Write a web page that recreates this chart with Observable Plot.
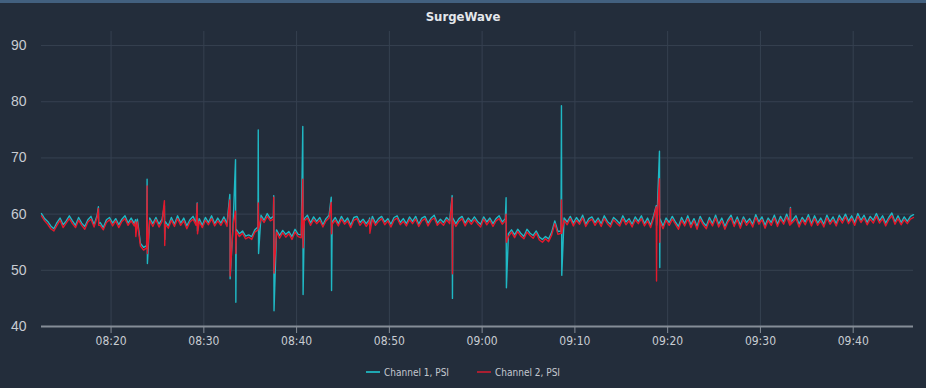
<!DOCTYPE html>
<html>
<head>
<meta charset="utf-8">
<script src="https://cdn.jsdelivr.net/npm/d3@7"></script>
<script src="https://cdn.jsdelivr.net/npm/@observablehq/plot@0.6"></script>
<style>
html,body{margin:0;padding:0;background:#232d3b;}
body{width:926px;height:388px;overflow:hidden;}
#bar{height:3px;background:#42607f;}
#title{height:27px;line-height:28px;text-align:center;color:#e4e7eb;font-weight:bold;font-size:13px;font-family:"Liberation Sans Narrow","DejaVu Sans Condensed",sans-serif;}
#chart{height:320px;}
#legend{height:38px;display:flex;justify-content:center;align-items:center;padding-top:6px;box-sizing:border-box;font-family:"Liberation Sans Narrow","DejaVu Sans Condensed",sans-serif;font-size:10px;color:#c3c8cf;}
.item{display:flex;align-items:center;margin:0 14px;}
.sw{width:14px;height:2px;margin-right:4px;}
</style>
</head>
<body>
<div id="bar"></div>
<div id="title">SurgeWave</div>
<div id="chart"></div>
<div id="legend"></div>
<script>
// Baseline readings: one every 20 s starting at 08:12:30
const startTime = "08:12:30";
const sampleSeconds = 20;

const seriesNames = ["Channel 1, PSI", "Channel 2, PSI"];
const seriesColors = ["#1fb8c4", "#e3192c"];
const legendColors = ["#1fa7b2", "#a91f31"];

const yTicks = [40, 50, 60, 70, 80, 90];
const xTickLabels = ["08:20","08:30","08:40","08:50","09:00","09:10","09:20","09:30","09:40"];

// Channel 1, PSI baseline
const channel1 = [
60.1,59.2,58.7,57.9,57.4,58.5,59.3,58.1,58.8,59.7,
58.8,58.0,59.4,58.4,57.8,59.0,59.6,58.1,59.8,58.5,
57.6,59.0,59.4,58.4,59.2,58.1,59.1,59.7,58.4,59.3,
58.3,59.1,54.8,54.1,54.4,59.3,58.3,59.4,58.2,59.1,
58.7,57.9,59.4,58.2,59.7,58.4,59.3,57.9,59.0,59.6,
58.4,59.2,58.0,59.4,58.5,59.7,58.3,59.3,58.4,59.5,
58.3,59.1,58.7,57.3,56.5,57.0,56.1,56.3,56.0,57.2,
57.7,59.8,58.9,60.1,59.2,59.6,57.2,56.2,57.1,56.4,
56.9,56.0,57.3,56.4,56.3,59.2,59.8,58.4,59.5,58.7,
59.4,58.1,59.2,59.8,58.6,59.4,58.3,59.6,58.6,59.3,
58.0,59.4,59.6,58.5,59.1,58.3,59.0,59.6,58.4,59.2,
59.6,58.6,59.2,58.2,59.4,59.7,58.5,59.2,58.3,59.5,
58.7,59.6,58.2,59.3,59.6,58.4,59.3,59.8,58.4,59.1,
58.5,59.4,58.8,59.3,58.3,59.2,59.6,58.4,59.3,58.7,
59.5,58.7,58.2,59.5,58.6,59.3,58.3,59.2,59.7,58.6,
59.2,56.5,57.2,56.3,57.3,56.6,56.0,57.3,56.6,56.2,
57.0,55.9,55.5,56.0,55.6,56.8,58.8,56.9,57.0,59.3,
58.6,59.6,58.4,59.4,58.6,59.8,58.2,59.2,59.5,58.5,
59.3,58.3,59.7,58.7,58.2,59.4,58.9,58.3,59.7,58.6,
59.2,58.2,59.5,58.7,59.7,58.3,59.3,58.0,59.8,58.5,
59.2,57.9,59.3,58.5,59.6,58.6,57.8,59.4,58.3,59.7,
58.1,59.2,57.8,59.6,58.5,57.9,59.4,58.3,59.8,58.2,
59.3,57.8,59.0,59.8,58.2,59.5,58.0,59.5,58.5,59.2,
58.2,59.9,58.6,59.5,58.0,59.3,58.5,59.8,58.2,59.6,
58.6,60.0,58.5,59.0,59.7,58.2,59.4,58.6,59.9,58.3,
59.7,58.4,59.3,58.2,59.8,58.6,59.5,58.3,59.8,58.9,
60.0,58.7,59.7,58.5,60.1,58.9,59.8,58.5,59.6,58.9,
60.1,58.8,59.7,58.4,59.4,60.2,58.6,59.7,58.5,59.5,
58.7,59.6,59.9
];

// Channel 2, PSI baseline
const channel2 = [
59.7,58.8,58.2,57.4,57.0,58.0,58.9,57.6,58.4,59.2,
58.3,57.6,58.9,58.0,57.3,58.6,59.1,57.7,59.4,58.0,
57.2,58.5,59.0,57.9,58.8,57.6,58.7,59.2,58.0,58.8,
57.9,58.6,54.3,53.6,54.0,58.9,57.8,59.0,57.7,58.7,
58.2,57.5,58.9,57.8,59.2,58.0,58.8,57.4,58.6,59.1,
58.0,58.7,57.6,58.9,58.1,59.2,57.9,58.8,58.0,59.0,
57.8,58.7,58.2,56.9,56.0,56.6,55.6,55.9,55.5,56.8,
57.2,59.3,58.5,59.6,58.8,59.1,56.8,55.7,56.7,55.9,
56.5,55.5,56.8,56.0,55.8,58.8,59.3,58.0,59.0,58.3,
58.9,57.7,58.8,59.3,58.2,58.9,57.9,59.1,58.2,58.8,
57.6,58.9,59.2,58.0,58.7,57.8,58.6,59.1,58.0,58.7,
59.2,58.1,58.8,57.7,58.9,59.3,58.1,58.7,57.9,59.0,
58.3,59.1,57.8,58.8,59.2,57.9,58.9,59.3,58.0,58.6,
58.0,59.0,58.3,58.9,57.8,58.7,59.2,57.9,58.9,58.2,
59.0,58.3,57.7,59.1,58.1,58.9,57.8,58.8,59.2,58.2,
58.8,56.0,56.8,55.8,56.9,56.1,55.6,56.8,56.2,55.7,
56.6,55.4,55.0,55.6,55.1,56.3,58.3,56.4,56.6,58.9,
58.1,59.2,57.9,58.9,58.2,59.3,57.8,58.7,59.1,58.0,
58.9,57.8,59.2,58.3,57.7,59.0,58.4,57.9,59.2,58.1,
58.8,57.7,59.0,58.3,59.2,57.9,58.8,57.6,59.4,58.0,
58.7,57.4,58.9,58.0,59.1,58.2,57.3,58.9,57.9,59.2,
57.6,58.8,57.3,59.1,58.1,57.4,58.9,57.9,59.3,57.7,
58.8,57.3,58.6,59.3,57.8,59.0,57.5,59.1,58.0,58.8,
57.7,59.4,58.2,59.0,57.5,58.9,58.0,59.3,57.8,59.1,
58.2,59.5,58.0,58.6,59.2,57.7,59.0,58.1,59.4,57.9,
59.2,58.0,58.8,57.7,59.3,58.2,59.0,57.9,59.3,58.4,
59.5,58.3,59.2,58.0,59.6,58.5,59.3,58.1,59.1,58.4,
59.6,58.4,59.2,57.9,59.0,59.7,58.2,59.2,58.1,59.0,
58.3,59.1,59.4
];

// Pressure surges (peak then trough, a couple of seconds apart)
const surgeTimes   = ["08:18:38","08:22:38","08:23:53","08:25:45","08:29:17","08:32:48","08:33:25","08:35:52","08:37:32","08:40:40","08:43:44","08:47:52","08:56:46","09:02:35","09:08:33","09:18:46","09:19:07","09:33:14"];
const ch1Peak      = [61.3, 59.0, 66.2, 61.5, 62.0, 63.5, 69.7, 75.0, 63.3, 75.6, 63.0, 59.3, 63.3, 62.9, 79.3, 61.5, 71.2, 61.2];
const ch1Trough    = [58.3, 57.0, 51.2, 55.5, 57.0, 48.5, 44.3, 53.0, 42.8, 45.7, 46.4, 57.5, 45.0, 46.9, 49.1, 58.0, 50.5, 58.5];
const ch2Peak      = [61.0, 58.6, 65.0, 62.4, 61.9, 62.5, 60.5, 62.0, 63.0, 66.2, 62.1, 59.0, 62.9, 60.0, 62.5, 61.3, 66.3, 61.0];
const ch2Trough    = [58.0, 56.0, 53.0, 54.4, 56.5, 49.0, 53.0, 57.5, 49.5, 54.0, 56.5, 56.6, 49.4, 55.0, 56.6, 48.1, 55.0, 58.2];

const toDate = hm => {
  const [h, m, s] = hm.split(":").map(Number);
  return new Date(Date.UTC(2024, 0, 1, h, m, s || 0));
};
const t0 = toDate(startTime);
const rows = channel1.map((v, i) => ({
  t: new Date(t0.getTime() + i * sampleSeconds * 1000),
  ch1: v,
  ch2: channel2[i]
}));
surgeTimes.forEach((s, k) => {
  const t = toDate(s);
  rows.push({t, ch1: ch1Peak[k], ch2: ch2Peak[k]});
  rows.push({t: new Date(t.getTime() + 2000), ch1: ch1Trough[k], ch2: ch2Trough[k]});
});
rows.sort((a, b) => a.t - b.t);

const xTicks = xTickLabels.map(toDate);
const fmt = d3.utcFormat("%H:%M");

const narrow = '"Liberation Sans Narrow","DejaVu Sans Condensed",sans-serif';
const chart = Plot.plot({
  width: 926,
  height: 320,
  marginTop: 1,
  marginBottom: 24,
  marginLeft: 41,
  marginRight: 13,
  style: {background: "transparent", color: "#c8ccd2", fontFamily: narrow},
  x: {type: "utc", domain: [rows[0].t, rows[rows.length - 1].t]},
  y: {domain: [40, 92.5]},
  marks: [
    Plot.gridY(yTicks, {stroke: "#364150", strokeOpacity: 1}),
    Plot.gridX(xTicks, {stroke: "#364150", strokeOpacity: 1}),
    Plot.axisY(yTicks, {tickSize: 0, tickPadding: 15, fontSize: 14, fill: "#c8ccd2", label: null, fontFamily: '"Liberation Sans",Arial,sans-serif'}),
    Plot.axisX(xTicks, {tickSize: 7, tickPadding: 3, fontSize: 12, tickFormat: fmt, stroke: "#858d97", fill: "#c8ccd2", label: null}),
    Plot.line(rows, {x: "t", y: "ch1", stroke: seriesColors[0], strokeWidth: 1.4}),
    Plot.line(rows, {x: "t", y: "ch2", stroke: seriesColors[1], strokeWidth: 1.4}),
    Plot.ruleY([40], {stroke: "#858d97", strokeWidth: 2})
  ]
});
document.getElementById("chart").appendChild(chart);

const legend = document.getElementById("legend");
seriesNames.forEach((name, i) => {
  const item = document.createElement("div");
  item.className = "item";
  const sw = document.createElement("span");
  sw.className = "sw";
  sw.style.background = legendColors[i];
  const label = document.createElement("span");
  label.textContent = name;
  item.appendChild(sw);
  item.appendChild(label);
  legend.appendChild(item);
});
</script>
</body>
</html>
